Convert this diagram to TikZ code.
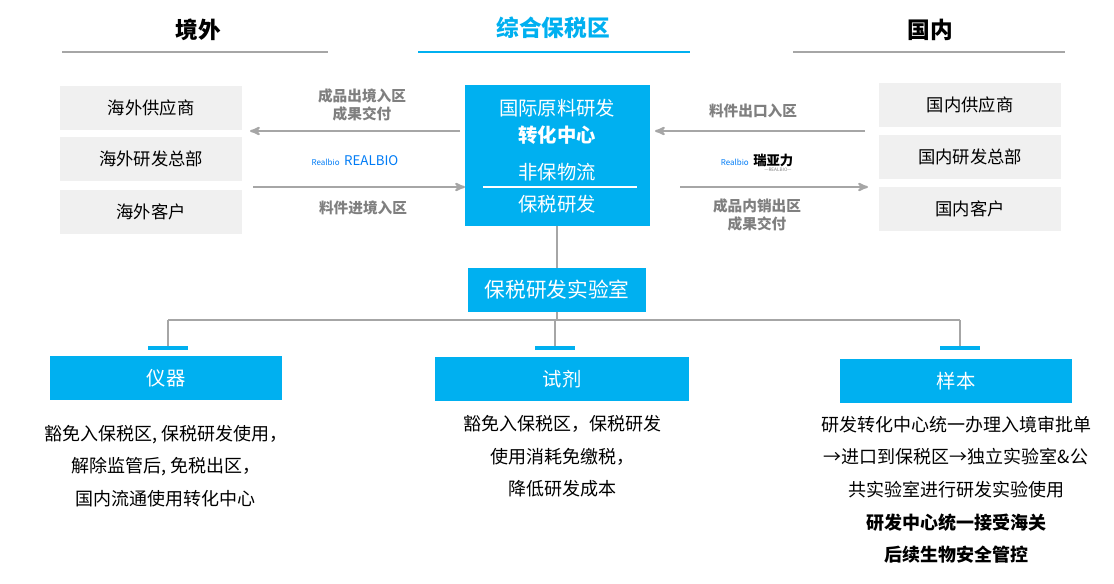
\documentclass[tikz,border=0pt]{standalone}
\usepackage{fontspec}
\setmainfont{Noto Sans CJK SC}
\usetikzlibrary{positioning,arrows,calc}
\definecolor{bluebox}{HTML}{00B0F0}
\definecolor{greybox}{HTML}{F0F0F0}
\definecolor{greyline}{HTML}{A6A6A6}
\definecolor{greytext}{HTML}{7F7F7F}

\begin{document}
\begin{tikzpicture}[
    x=0.75pt, y=-0.75pt,
    side/.style={rectangle, fill=greybox, minimum width=137pt, minimum height=33pt, font=\fontsize{13}{15}\selectfont},
    center/.style={rectangle, fill=bluebox, text=white, font=\fontsize{14.5}{16}\selectfont},
    item/.style={rectangle, fill=bluebox, text=white, minimum height=33pt, font=\fontsize{14.5}{16}\selectfont},
    flow/.style={->, >=stealth', line width=1.5pt, greyline},
    flowlabel/.style={text=greytext, font=\bfseries\fontsize{11}{13}\selectfont, align=center},
    tree/.style={line width=1.2pt, greyline},
    header/.style={font=\bfseries\fontsize{17}{19}\selectfont},
    body/.style={font=\fontsize{13.5}{24.5}\selectfont, align=center}
]
\useasboundingbox (0,0) rectangle (1114,583);

% 标题
\node[header] (abroad) at (198,30) {境外};
\node[header, text=bluebox] (zone) at (553,28) {综合保税区};
\node[header] (home) at (930,30) {国内};
\draw[line width=2.2pt, greyline] (62,52) -- (328,52);
\draw[line width=2.2pt, bluebox] (418,52) -- (690,52);
\draw[line width=2.2pt, greyline] (793,52) -- (1065,52);

% 境外
\node[side] (supplier_out) at (151,108) {海外供应商};
\node[side] (rd_out) at (151,159) {海外研发总部};
\node[side] (client_out) at (151,212) {海外客户};

% 国内
\node[side] (supplier_in) at (970,105) {国内供应商};
\node[side] (rd_in) at (970,157) {国内研发总部};
\node[side] (client_in) at (970,209) {国内客户};

% 中心
\fill[bluebox] (465,85) rectangle (650,226);
\node[center] (c1) at (557,108) {国际原料研发};
\node[center, font=\bfseries\fontsize{14.5}{16}\selectfont] (c2) at (557,135) {转化中心};
\node[center] (c3) at (557,172) {非保物流};
\node[center] (c4) at (557,204) {保税研发};
\draw[white, line width=1.2pt] (483,187) -- (637,187);
\coordinate (cbottom) at (557,226);

% 左侧流向
\coordinate (lt1) at (460,131); \coordinate (lt2) at (250,131);
\coordinate (lb1) at (253,187); \coordinate (lb2) at (465,187);
\draw[flow] (lt1) -- (lt2);
\draw[flow] (lb1) -- (lb2);
\node[flowlabel] (out_label) at (362,105) {成品出境入区\\成果交付};
\node[flowlabel] (in_label) at (363,208) {料件进境入区};
\node[text=bluebox!70!blue, font=\fontsize{10}{12}\selectfont] (logo_l) at (355,161) {\textit{\fontsize{6}{6}\selectfont Realbio}\,\,REALBIO};

% 右侧流向
\coordinate (rt1) at (865,131); \coordinate (rt2) at (655,131);
\coordinate (rb1) at (680,187); \coordinate (rb2) at (868,187);
\draw[flow] (rt1) -- (rt2);
\draw[flow] (rb1) -- (rb2);
\node[flowlabel] (imp_label) at (753,111) {料件出口入区};
\node[flowlabel] (sale_label) at (757,215) {成品内销出区\\成果交付};
\node[font=\fontsize{10}{12}\selectfont, align=center] (logo_r) at (757,160)
    {\textcolor{bluebox!70!blue}{\textit{\fontsize{6}{6}\selectfont Realbio}}\,\,\textbf{瑞亚力}};
\node[font=\fontsize{3.5}{4}\selectfont, text=greytext] (logo_r2) at (778,170) {—REALBIO—};

% 实验室
\node[item, minimum width=133pt, font=\fontsize{15.5}{17}\selectfont] (lab) at (557,290) {保税研发实验室};
\draw[tree] (cbottom) -- (lab);

% 分支
\coordinate (j0) at (557,320);
\coordinate (j1) at (168,320); \coordinate (j2) at (555,320); \coordinate (j3) at (960,320);
\coordinate (d1) at (168,346); \coordinate (d2) at (555,346); \coordinate (d3) at (960,346);
\draw[tree] (lab) -- (j0);
\draw[tree] (j1) -- (j3);
\foreach \n in {1,2,3} \draw[tree] (j\n) -- (d\n);
\foreach \n in {1,2,3} \draw[line width=3pt, bluebox] ($(d\n)+(-20,2)$) -- ($(d\n)+(20,2)$);

\node[item, minimum width=174pt] (instr) at (166,378) {仪器};
\node[item, minimum width=191pt] (reagent) at (562,379) {试剂};
\node[item, minimum width=174pt] (sample) at (956,381) {样本};

% 说明
\node[body, below=15pt of instr] (instr_txt) {豁免入保税区, 保税研发使用，\\解除监管后, 免税出区，\\国内流通使用转化中心};
\node[body, below=7pt of reagent] (reagent_txt) {豁免入保税区，保税研发\\使用消耗免缴税，\\降低研发成本};
\node[body, below=6pt of sample] (sample_txt) {研发转化中心统一办理入境审批单\\→进口到保税区→独立实验室\&公\\共实验室进行研发实验使用\\\textbf{研发中心统一接受海关}\\\textbf{后续生物安全管控}};
\end{tikzpicture}
\end{document}
